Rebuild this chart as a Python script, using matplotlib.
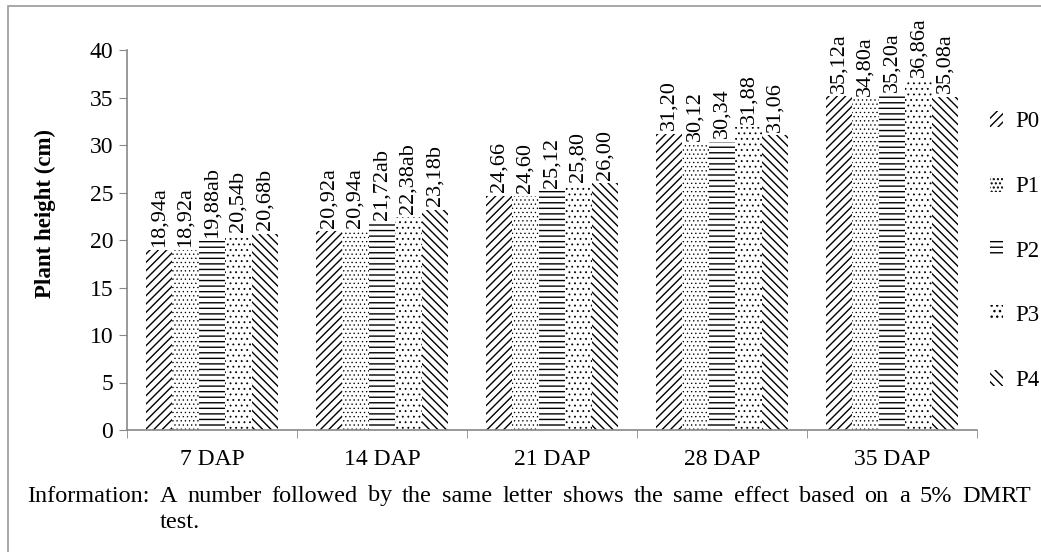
import matplotlib
matplotlib.use("Agg")
import matplotlib.pyplot as plt
import matplotlib.patches as mpatches
import numpy as np

plt.rcParams['font.family'] = ['Liberation Serif', 'DejaVu Serif']
plt.rcParams['hatch.linewidth'] = 1.0

categories = ["7 DAP", "14 DAP", "21 DAP", "28 DAP", "35 DAP"]
series_names = ["P0", "P1", "P2", "P3", "P4"]
P0 = [18.94, 20.92, 24.66, 31.20, 35.12]
P1 = [18.92, 20.94, 24.60, 30.12, 34.80]
P2 = [19.88, 21.72, 25.12, 30.34, 35.20]
P3 = [20.54, 22.38, 25.80, 31.88, 36.86]
P4 = [20.68, 23.18, 26.00, 31.06, 35.08]
labels_P0 = ["18,94a", "20,92a", "24,66", "31,20", "35,12a"]
labels_P1 = ["18,92a", "20,94a", "24,60", "30,12", "34,80a"]
labels_P2 = ["19,88ab", "21,72ab", "25,12", "30,34", "35,20a"]
labels_P3 = ["20,54b", "22,38ab", "25,80", "31,88", "36,86a"]
labels_P4 = ["20,68b", "23,18b", "26,00", "31,06", "35,08a"]
y_ticks = [0, 5, 10, 15, 20, 25, 30, 35, 40]
note_line1 = "Information:  A number followed by the same letter shows the same effect based on a 5% DMRT"
note_line2 = "test."

series = [P0, P1, P2, P3, P4]
labels = [labels_P0, labels_P1, labels_P2, labels_P3, labels_P4]
hatches = ["////", "....", "---", "...", "\\\\\\\\"]
hatch_lw = [1.0, 0.45, 1.0, 0.6, 1.0]

W, H = 1041, 552
fig = plt.figure(figsize=(W / 100, H / 100), dpi=100)
ax = fig.add_axes([127 / W, 1 - 430 / H, (977 - 127) / W, (430 - 50) / H])


def set_hlw(p, lw):
    if hasattr(p, "set_hatch_linewidth"):
        try:
            p.set_hatch_linewidth(lw)
        except Exception:
            pass


x = np.arange(len(categories))
bw = 0.156
handles = []
for i, (vals, hat, labs, name, hlw) in enumerate(zip(series, hatches, labels, series_names, hatch_lw)):
    pos = x + (i - 2) * bw
    with plt.rc_context({'hatch.linewidth': hlw}):
        bars = ax.bar(pos, vals, width=bw, color="white", edgecolor="black",
                      linewidth=0, hatch=hat, label=name)
        h = mpatches.Patch(facecolor="white", edgecolor="black",
                           linewidth=0, hatch=hat, label=name)
    for b in bars:
        set_hlw(b, hlw)
    set_hlw(h, hlw)
    handles.append(h)
    for b, lab in zip(bars, labs):
        ax.text(b.get_x() + b.get_width() / 2, b.get_height() + 0.35, lab,
                rotation=90, ha="center", va="bottom", fontsize=16)

ax.set_xlim(-0.5, len(categories) - 0.5)
ax.set_ylim(0, 40)
ax.set_yticks(y_ticks)
ax.set_xticks(x)
ax.set_xticklabels(categories, fontsize=17)
ax.tick_params(axis="x", length=0, pad=14)
ax.set_xticks(np.arange(len(categories) + 1) - 0.5, minor=True)
ax.tick_params(axis="x", which="minor", length=6, color="#888888", direction="out")
ax.tick_params(axis="y", labelsize=17, length=6, color="#888888", pad=4)
for s in ["top", "right"]:
    ax.spines[s].set_visible(False)
for s in ["left", "bottom"]:
    ax.spines[s].set_color("#888888")
    ax.spines[s].set_linewidth(1.2)
ax.set_ylabel("Plant height (cm)", fontsize=16.5, fontweight="bold")
ax.yaxis.set_label_coords(-0.084, 0.57)

leg = fig.legend(handles=handles, loc="center left", bbox_to_anchor=(990 / W, 1 - 251 / H),
                 frameon=False, fontsize=16.5, handlelength=0.55, handleheight=0.7,
                 labelspacing=1.9, handletextpad=0.55, borderaxespad=0, borderpad=0)

# justified note line
fig.canvas.draw()
renderer = fig.canvas.get_renderer()
words = note_line1.split()
word_objs = [fig.text(0, 1 - 496 / H, w, fontsize=17.5, va="center", ha="left") for w in words]
widths = [t.get_window_extent(renderer).width for t in word_objs]
x0, x1 = 27, 1031
gap = (x1 - x0 - sum(widths)) / (len(words) - 1)
cx = x0
for t, wdt in zip(word_objs, widths):
    t.set_x(cx / W)
    cx += wdt + gap
fig.text(160 / W, 1 - 523 / H, note_line2, fontsize=17.5, va="center", ha="left")

border = mpatches.Rectangle((8 / W, -0.05), 1.2, 1 - 6 / H + 0.05, transform=fig.transFigure,
                            fill=False, edgecolor="#999999", linewidth=1.2)
fig.patches.append(border)

fig.savefig("out.png", dpi=100)
